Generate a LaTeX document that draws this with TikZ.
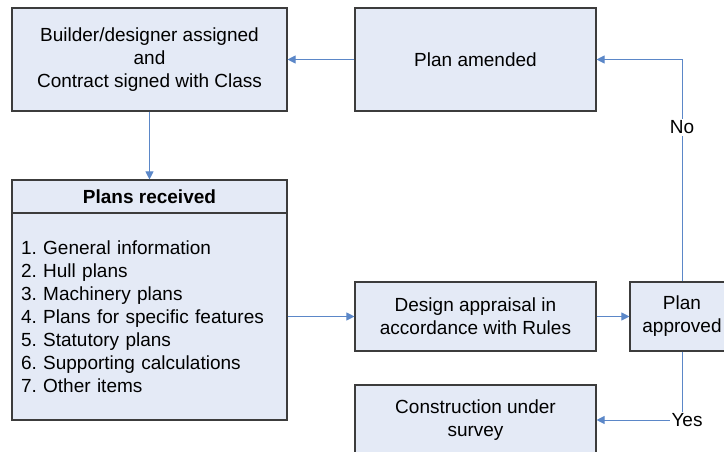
\documentclass[tikz,border=0pt]{standalone}
\usepackage{fontspec}
\setmainfont{Liberation Sans}
\usetikzlibrary{arrows.meta}
\definecolor{boxfill}{RGB}{228,234,246}
\definecolor{boxline}{RGB}{60,60,60}
\definecolor{flow}{RGB}{91,135,200}
\frenchspacing
\begin{document}
\begin{tikzpicture}[x=1pt,y=-1pt,
  every node/.style={font=\fontsize{19}{23}\selectfont},
  stagebox/.style={draw=boxline,fill=boxfill,line width=1.1pt,inner sep=0pt,
    align=center,minimum width=#1},
  stagebox/.default=241pt,
  flowline/.style={draw=flow,line width=1pt,-{Triangle[length=8pt,width=8pt]}},
  tag/.style={fill=white,inner sep=1.5pt}]
\useasboundingbox (0,0) rectangle (724,452);

% boxes
\node[stagebox=275pt,minimum height=103pt] (start) at (149.5,59.5)
  {Builder/designer assigned\\and\\Contract signed with Class};
\node[stagebox,minimum height=103pt] (amend) at (475.5,59.5) {Plan amended};
\node[stagebox=275pt,minimum height=33pt] (hdr) at (149.5,196.5) {\bfseries Plans received};
\node[stagebox=275pt,minimum height=207pt,align=left,text width=257pt] (list) at (149.5,316.5)
  {1. General information\\2. Hull plans\\3. Machinery plans\\4. Plans for specific features\\
   5. Statutory plans\\6. Supporting calculations\\7. Other items};
\node[stagebox,minimum height=69pt] (design) at (475.5,316.5)
  {Design appraisal in\\accordance with Rules};
\node[stagebox=104pt,minimum height=69pt] (approved) at (682,316.5)
  {Plan\\approved};
\node[stagebox,minimum height=70pt] (survey) at (475.5,420)
  {Construction under\\survey};

% connectors
\draw[flowline] (start) -- (hdr);
\draw[flowline] (amend) -- (start);
\draw[flowline] (list.east |- design) -- (design);
\draw[flowline] (design) -- (approved);
\draw[flowline] (approved.north) |- node[pos=0.347,tag] {No} (amend.east);
\draw[flowline] (approved.south) |- node[pos=0.5,tag,xshift=5pt] {Yes} (survey.east);
\end{tikzpicture}
\end{document}
